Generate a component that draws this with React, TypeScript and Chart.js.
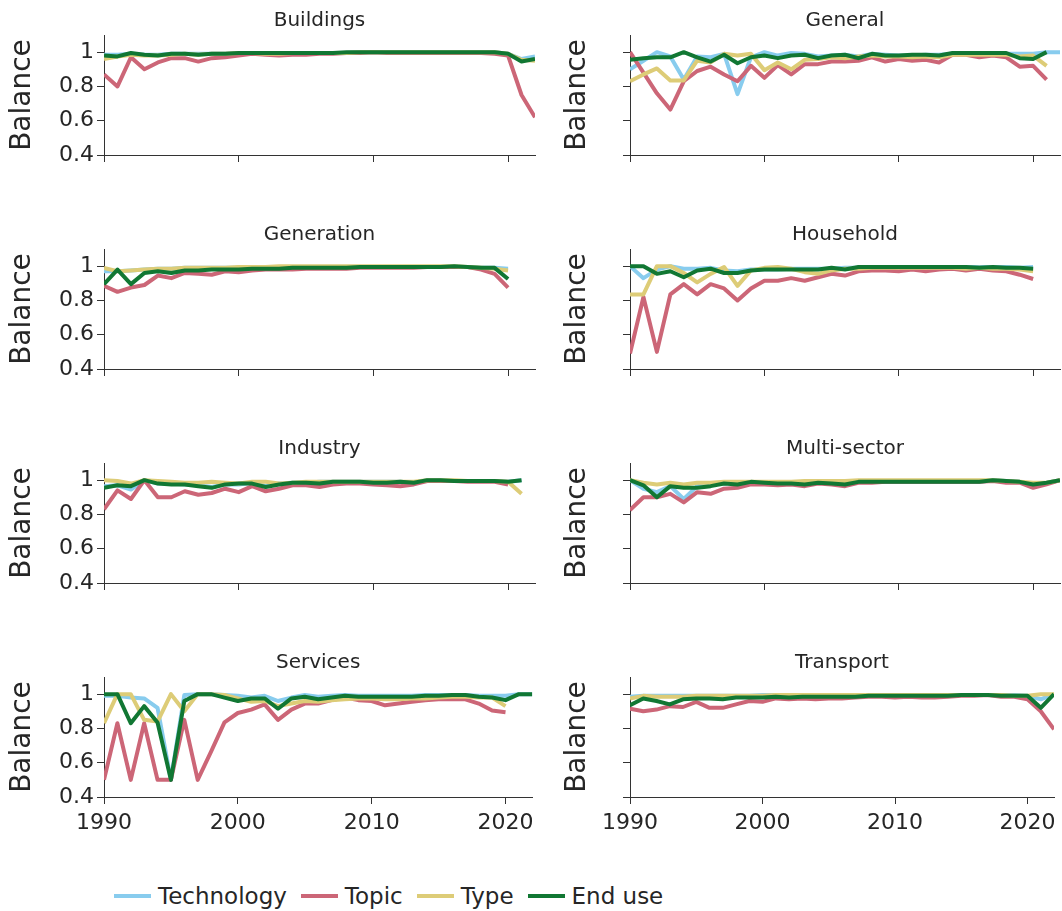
import React, { useEffect, useRef } from "react";
import { Chart, registerables } from "chart.js";

Chart.register(...registerables);

// ---- data -------------------------------------------------------------
const YEARS = [
  1990, 1991, 1992, 1993, 1994, 1995, 1996, 1997, 1998, 1999, 2000,
  2001, 2002, 2003, 2004, 2005, 2006, 2007, 2008, 2009, 2010, 2011,
  2012, 2013, 2014, 2015, 2016, 2017, 2018, 2019, 2020, 2021, 2022,
];
const X_TICKS = [1990, 2000, 2010, 2020];
const Y_TICKS = [0.4, 0.6, 0.8, 1];
const SERIES_NAMES = ["Technology", "Topic", "Type", "End use"];
const SERIES_COLORS = ["#88CCEE", "#CC6677", "#DDCC77", "#117733"];

// Buildings
const buildingsTechnology = [0.985,0.985,0.99,0.985,0.985,0.99,0.99,0.99,0.99,0.99,0.995,0.995,0.995,0.995,0.995,0.995,0.995,0.995,0.995,1,1,1,1,1,1,1,1,1,1,1,0.99,0.96,0.975];
const buildingsTopic = [0.87,0.8,0.97,0.9,0.94,0.965,0.965,0.945,0.965,0.97,0.98,0.99,0.985,0.98,0.985,0.985,0.99,0.99,0.995,0.995,1,0.995,0.995,0.995,0.995,0.995,0.995,0.995,0.995,0.99,0.98,0.75,0.62];
const buildingsType = [0.96,0.975,0.985,0.98,0.98,0.985,0.99,0.985,0.99,0.99,0.995,0.995,0.99,0.99,0.995,0.995,0.995,0.995,0.995,1,1,1,1,1,1,1,1,1,1,1,0.99,0.955,0.95];
const buildingsEndUse = [0.98,0.975,0.995,0.985,0.98,0.99,0.99,0.985,0.99,0.99,0.995,0.995,0.995,0.995,0.995,0.995,0.995,0.995,1,1,1,1,1,1,1,1,1,1,1,1,0.99,0.945,0.96];

// General
const generalTechnology = [0.9,0.95,1,0.975,0.84,0.975,0.97,0.99,0.755,0.97,1,0.98,0.995,0.99,0.975,0.98,0.985,0.975,0.99,0.985,0.98,0.98,0.985,0.985,0.99,0.99,0.99,0.99,0.99,0.99,0.99,1,1];
const generalTopic = [1,0.88,0.76,0.665,0.83,0.89,0.915,0.87,0.83,0.92,0.85,0.925,0.87,0.93,0.93,0.945,0.945,0.95,0.97,0.945,0.96,0.95,0.955,0.94,0.985,0.985,0.97,0.98,0.97,0.915,0.92,0.84];
const generalType = [0.83,0.87,0.905,0.835,0.835,0.95,0.94,0.99,0.98,0.99,0.895,0.94,0.9,0.955,0.96,0.97,0.965,0.975,0.98,0.975,0.975,0.97,0.975,0.97,0.985,0.985,0.985,0.985,0.985,0.975,0.98,0.92];
const generalEndUse = [0.955,0.965,0.97,0.97,1,0.97,0.945,0.985,0.935,0.97,0.98,0.965,0.98,0.985,0.965,0.98,0.985,0.965,0.99,0.98,0.98,0.985,0.985,0.98,0.995,0.995,0.995,0.995,0.995,0.965,0.96,1];

// Generation
const generationTechnology = [0.97,0.97,0.975,0.98,0.985,0.985,0.99,0.99,0.99,0.99,0.99,0.99,0.995,0.995,0.995,0.995,0.995,0.995,0.995,0.995,0.995,0.995,0.995,0.995,0.995,0.995,0.995,0.995,0.99,0.99,0.985];
const generationTopic = [0.885,0.85,0.875,0.89,0.945,0.93,0.96,0.955,0.95,0.97,0.965,0.975,0.98,0.98,0.98,0.985,0.985,0.985,0.985,0.99,0.99,0.99,0.99,0.99,0.995,0.995,0.995,0.995,0.98,0.955,0.875];
const generationType = [0.99,0.97,0.975,0.98,0.985,0.985,0.99,0.99,0.99,0.99,0.995,0.995,0.995,1,1,1,1,1,1,1,1,1,1,1,1,1,1,0.995,0.99,0.985,0.975];
const generationEndUse = [0.895,0.98,0.895,0.96,0.97,0.96,0.975,0.975,0.98,0.98,0.98,0.985,0.985,0.985,0.99,0.99,0.99,0.99,0.99,0.995,0.995,0.995,0.995,0.995,0.995,0.995,1,0.995,0.99,0.99,0.925];

// Household
const householdTechnology = [1,0.93,0.98,1,0.985,0.985,0.99,0.975,0.97,0.98,0.98,0.98,0.985,0.985,0.985,0.985,0.99,0.99,0.995,0.995,0.995,0.995,0.995,0.995,0.995,0.995,0.995,0.995,0.995,0.99,0.995];
const householdTopic = [0.49,0.82,0.5,0.835,0.895,0.835,0.895,0.87,0.8,0.87,0.915,0.915,0.93,0.915,0.935,0.955,0.945,0.97,0.975,0.975,0.97,0.98,0.97,0.98,0.985,0.975,0.985,0.975,0.97,0.95,0.925];
const householdType = [0.835,0.835,1,1,0.96,0.905,0.955,0.995,0.885,0.975,0.99,0.995,0.985,0.965,0.955,0.975,0.985,0.985,0.99,0.99,0.99,0.99,0.99,0.99,0.99,0.985,0.99,0.985,0.985,0.98,0.97];
const householdEndUse = [1,1,0.955,0.97,0.935,0.975,0.985,0.96,0.96,0.975,0.98,0.98,0.98,0.98,0.98,0.99,0.98,0.995,0.995,0.995,0.995,0.995,0.995,0.995,0.995,0.995,0.99,0.995,0.99,0.99,0.985];

// Industry
const industryTechnology = [0.965,0.97,0.945,1,0.98,0.98,0.975,0.97,0.96,0.975,0.975,0.985,0.965,0.98,0.985,0.985,0.99,0.99,0.99,0.99,0.99,0.99,0.99,0.985,1,1,0.995,0.995,0.995,0.995,0.99,1];
const industryTopic = [0.83,0.94,0.89,1,0.9,0.9,0.935,0.915,0.925,0.95,0.93,0.965,0.935,0.95,0.97,0.97,0.96,0.975,0.98,0.98,0.975,0.97,0.965,0.975,0.995,0.995,0.995,0.99,0.99,0.99,0.975];
const industryType = [1,0.995,0.98,1,0.995,0.99,0.985,0.985,0.99,0.985,0.98,0.99,0.99,0.98,0.985,0.99,0.99,0.99,0.99,0.99,0.99,0.99,0.99,0.99,1,1,1,0.995,0.995,0.995,0.99,0.92];
const industryEndUse = [0.955,0.97,0.965,1,0.98,0.975,0.975,0.965,0.955,0.975,0.98,0.98,0.96,0.975,0.985,0.985,0.98,0.99,0.99,0.99,0.985,0.985,0.99,0.985,1,1,0.995,0.995,0.995,0.995,0.99,1];

// Multi-sector
const multiTechnology = [1,0.95,0.93,0.965,0.89,0.965,0.975,0.98,0.98,0.985,0.985,0.985,0.985,0.985,0.985,0.985,0.985,0.99,0.99,0.99,0.99,0.99,0.99,0.99,0.99,0.99,0.99,1,0.995,0.99,0.975,0.985,1];
const multiTopic = [0.825,0.9,0.9,0.92,0.87,0.93,0.92,0.95,0.955,0.975,0.975,0.97,0.975,0.965,0.98,0.975,0.965,0.985,0.985,0.99,0.99,0.99,0.99,0.99,0.99,0.99,0.99,0.995,0.985,0.985,0.955,0.975,1];
const multiType = [1,0.985,0.975,0.985,0.975,0.985,0.985,0.99,0.99,0.99,0.99,0.99,0.99,0.995,0.995,0.995,0.995,1,1,1,1,1,1,1,1,1,1,1,0.995,0.99,0.985,0.985,1];
const multiEndUse = [1,0.97,0.9,0.965,0.955,0.955,0.965,0.98,0.975,0.99,0.985,0.98,0.98,0.975,0.985,0.98,0.975,0.99,0.99,0.99,0.99,0.99,0.99,0.99,0.99,0.99,0.99,1,0.995,0.99,0.975,0.985,1];

// Services
const servicesTechnology = [0.99,0.99,0.98,0.975,0.92,0.5,0.995,1,1,0.995,0.99,0.98,0.99,0.96,0.98,0.995,0.985,0.99,0.995,0.99,0.99,0.99,0.99,0.99,0.995,0.995,0.995,0.995,0.99,0.99,0.99,1,1];
const servicesTopic = [0.5,0.83,0.5,0.83,0.5,0.5,0.85,0.5,0.665,0.835,0.89,0.91,0.94,0.85,0.91,0.945,0.945,0.965,0.98,0.965,0.96,0.935,0.945,0.955,0.965,0.97,0.97,0.97,0.945,0.905,0.895];
const servicesType = [0.83,1,1,0.85,0.84,1,0.9,1,1,0.995,0.975,0.955,0.96,0.93,0.945,0.96,0.955,0.965,0.97,0.975,0.975,0.97,0.97,0.975,0.975,0.98,0.985,0.985,0.98,0.98,0.93];
const servicesEndUse = [1,1,0.83,0.93,0.835,0.5,0.96,1,1,0.98,0.96,0.975,0.975,0.915,0.975,0.985,0.97,0.98,0.99,0.985,0.985,0.985,0.985,0.985,0.99,0.99,0.995,0.995,0.985,0.98,0.965,1,1];

// Transport
const transportTechnology = [0.985,0.99,0.99,0.99,0.99,0.99,0.99,0.99,0.99,0.99,0.995,0.995,0.995,0.995,0.995,0.995,0.995,0.995,0.995,0.995,0.995,0.995,0.995,0.995,0.995,0.995,0.995,0.995,0.995,0.995,0.99,0.97,1];
const transportTopic = [0.915,0.9,0.91,0.93,0.925,0.955,0.92,0.92,0.94,0.96,0.955,0.975,0.97,0.975,0.97,0.975,0.975,0.98,0.985,0.985,0.98,0.985,0.98,0.98,0.985,0.99,0.99,0.995,0.985,0.985,0.97,0.9,0.795];
const transportType = [0.975,0.99,0.985,0.985,0.985,0.99,0.99,0.99,0.99,0.99,0.99,0.995,0.995,0.995,0.995,0.995,0.995,0.995,0.995,0.995,0.995,0.995,0.995,0.995,0.995,0.995,0.995,0.995,0.995,0.99,0.99,1,1];
const transportEndUse = [0.935,0.975,0.96,0.94,0.97,0.975,0.975,0.97,0.98,0.98,0.98,0.985,0.98,0.985,0.985,0.985,0.985,0.985,0.99,0.99,0.99,0.99,0.99,0.99,0.99,0.995,0.995,0.995,0.99,0.99,0.99,0.92,1];

const PANELS = [
  { title: "Buildings", series: [buildingsTechnology, buildingsTopic, buildingsType, buildingsEndUse] },
  { title: "General", series: [generalTechnology, generalTopic, generalType, generalEndUse] },
  { title: "Generation", series: [generationTechnology, generationTopic, generationType, generationEndUse] },
  { title: "Household", series: [householdTechnology, householdTopic, householdType, householdEndUse] },
  { title: "Industry", series: [industryTechnology, industryTopic, industryType, industryEndUse] },
  { title: "Multi-sector", series: [multiTechnology, multiTopic, multiType, multiEndUse] },
  { title: "Services", series: [servicesTechnology, servicesTopic, servicesType, servicesEndUse] },
  { title: "Transport", series: [transportTechnology, transportTopic, transportType, transportEndUse] },
];

// ---- styling ----------------------------------------------------------
const FONT = "'DejaVu Sans', Verdana, sans-serif";
const TEXT = "#262626";
const AXIS = "#333333";
const ROW_H = 214;
const LEFT_W = 540;
const RIGHT_W = 522;

type PanelProps = {
  title: string;
  series: number[][];
  col: number;
  row: number;
  showX: boolean;
};

function Panel({ title, series, col, row, showX }: PanelProps) {
  const ref = useRef<HTMLCanvasElement | null>(null);
  const width = col === 0 ? LEFT_W : RIGHT_W;
  const showY = col === 0;

  useEffect(() => {
    if (!ref.current) return;
    const datasets = series.map((vals, i) => ({
      label: SERIES_NAMES[i],
      data: vals.map((v, j) => ({ x: YEARS[j], y: v })),
      borderColor: SERIES_COLORS[i],
      backgroundColor: SERIES_COLORS[i],
      borderWidth: 4,
      borderJoinStyle: "round" as const,
      pointRadius: 0,
      tension: 0,
      fill: false,
      order: SERIES_NAMES.length - 1 - i,
    }));

    const chart = new Chart(ref.current, {
      type: "line",
      data: { datasets },
      options: {
        animation: false,
        responsive: false,
        devicePixelRatio: 1,
        events: [],
        layout: { padding: { left: 0, right: col === 0 ? 5 : 2, top: 0, bottom: 0 } },
        plugins: {
          legend: { display: false },
          tooltip: { enabled: false },
          title: {
            display: true,
            text: title,
            fullSize: false,
            color: TEXT,
            font: { family: FONT, size: 20, weight: "normal" },
            padding: { top: 9, bottom: 2 },
          },
        },
        scales: {
          x: {
            type: "linear",
            min: 1990,
            max: 2022,
            afterBuildTicks: (s: any) => {
              s.ticks = X_TICKS.map((v) => ({ value: v }));
            },
            afterFit: (s: any) => {
              s.height = ROW_H - 155;
            },
            grid: {
              drawOnChartArea: false,
              drawTicks: true,
              tickLength: 7,
              tickColor: AXIS,
              tickWidth: 1,
            },
            border: { display: true, color: AXIS, width: 1 },
            ticks: {
              display: showX,
              autoSkip: false,
              maxRotation: 0,
              padding: 6,
              color: TEXT,
              font: { family: FONT, size: 22 },
              callback: (v: any) => String(v),
            },
          },
          y: {
            min: 0.4,
            max: 1.1,
            afterBuildTicks: (s: any) => {
              s.ticks = Y_TICKS.map((v) => ({ value: v }));
            },
            afterFit: (s: any) => {
              s.width = col === 0 ? 104 : 90;
            },
            grid: {
              drawOnChartArea: false,
              drawTicks: true,
              tickLength: 7,
              tickColor: AXIS,
              tickWidth: 1,
            },
            border: { display: true, color: AXIS, width: 1 },
            ticks: {
              display: showY,
              padding: 3,
              color: TEXT,
              font: { family: FONT, size: 22 },
              callback: (v: any) => String(v),
            },
            title: {
              display: true,
              text: "Balance",
              color: TEXT,
              font: { family: FONT, size: 28 },
              padding: { top: col === 0 ? 6 : 21, bottom: 0 },
            },
          },
        },
      },
    });
    return () => chart.destroy();
  }, [title, series, col, row, showX]);

  return (
    <div
      style={{
        position: "absolute",
        left: col === 0 ? 0 : LEFT_W,
        top: row * ROW_H,
        width,
        height: ROW_H,
      }}
    >
      <canvas ref={ref} width={width} height={ROW_H} style={{ display: "block" }} />
    </div>
  );
}

function Legend() {
  return (
    <div
      style={{
        position: "absolute",
        left: 114,
        top: 882,
        height: 28,
        display: "flex",
        alignItems: "center",
        fontFamily: FONT,
        fontSize: 23,
        color: TEXT,
        lineHeight: "28px",
      }}
    >
      {SERIES_NAMES.map((name, i) => (
        <div key={name} style={{ display: "flex", alignItems: "center", marginRight: 14 }}>
          <div style={{ width: 37, height: 4, background: SERIES_COLORS[i], marginRight: 7 }} />
          <span>{name}</span>
        </div>
      ))}
    </div>
  );
}

export default function App() {
  return (
    <div
      style={{
        position: "absolute",
        left: 0,
        top: 0,
        width: 1062,
        height: 911,
        background: "#ffffff",
        overflow: "hidden",
      }}
    >
      {PANELS.map((p, i) => (
        <Panel
          key={p.title}
          title={p.title}
          series={p.series}
          col={i % 2}
          row={Math.floor(i / 2)}
          showX={i >= 6}
        />
      ))}
      <Legend />
    </div>
  );
}
